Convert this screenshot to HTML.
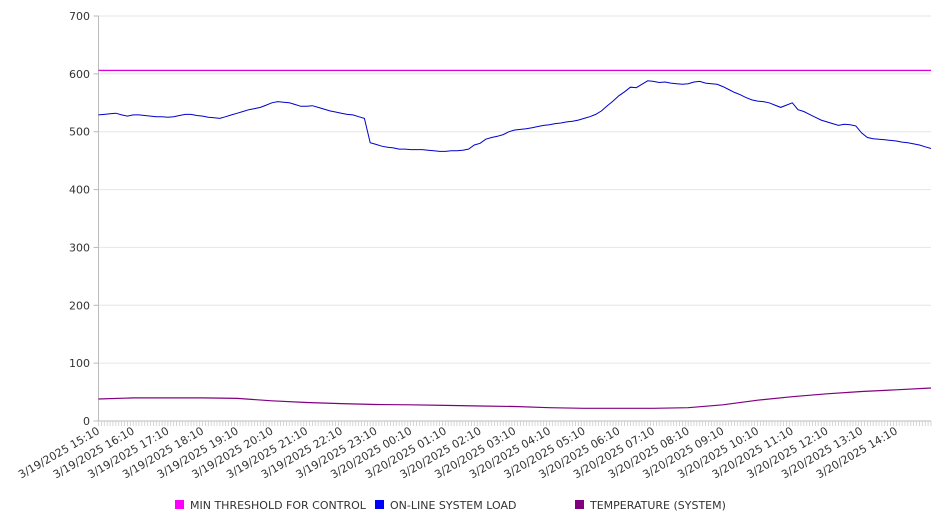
<!DOCTYPE html>
<html><head><meta charset="utf-8"><style>
body{margin:0;background:#fff}
svg{display:block;font-family:"DejaVu Sans","Liberation Sans",sans-serif}
</style></head><body>
<svg id="chart" width="946" height="526" viewBox="0 0 946 526" xmlns="http://www.w3.org/2000/svg">
<g id="grid"></g>
<g id="yaxis"></g>
<g id="xaxis"></g>
<g id="series"></g>
<g id="legend">
  <g><rect x="175" y="500" width="9" height="9" fill="#ff00ff"/><text x="190" y="509" font-size="11" fill="#333">MIN THRESHOLD FOR CONTROL</text></g>
  <g><rect x="375" y="500" width="9" height="9" fill="#0000ff"/><text x="390" y="509" font-size="11" fill="#333">ON-LINE SYSTEM LOAD</text></g>
  <g><rect x="575" y="500" width="9" height="9" fill="#800080"/><text x="590" y="509" font-size="11" fill="#333">TEMPERATURE (SYSTEM)</text></g>
</g>
</svg>
<script>
const categories = ["3/19/2025 15:10","3/19/2025 16:10","3/19/2025 17:10","3/19/2025 18:10","3/19/2025 19:10","3/19/2025 20:10","3/19/2025 21:10","3/19/2025 22:10","3/19/2025 23:10","3/20/2025 00:10","3/20/2025 01:10","3/20/2025 02:10","3/20/2025 03:10","3/20/2025 04:10","3/20/2025 05:10","3/20/2025 06:10","3/20/2025 07:10","3/20/2025 08:10","3/20/2025 09:10","3/20/2025 10:10","3/20/2025 11:10","3/20/2025 12:10","3/20/2025 13:10","3/20/2025 14:10"];
const yTicks = [0,100,200,300,400,500,600,700];
const thresholdValue = 606;
// load sampled every 10 minutes
const loadValues = [529,530,531,532,529,527,529,529,528,527,526,526,525,526,528,530,530,528,527,525,524,523,526,529,532,535,538,540,542,546,550,552,551,550,547,544,544,545,542,539,536,534,532,530,529,526,523,481,478,475,473,472,470,470,469,469,469,468,467,466,466,467,467,468,470,477,480,487,490,492,495,500,503,504,505,507,509,511,512,514,515,517,518,520,523,526,530,536,545,553,562,569,577,576,582,588,587,585,586,584,583,582,583,586,587,584,583,582,578,573,568,564,559,555,553,552,550,546,542,546,550,538,535,530,525,520,517,514,511,513,512,510,498,490,488,487,486,485,484,482,481,479,477,474,471];
// temperature sampled hourly
const tempValues = [38,40,40,40,39,35,32,30,28.5,28,27,26,25,23,22,22,22,23,28,36,42,47,51,54,57];

const NS="http://www.w3.org/2000/svg";
const X0=98.5, X1=931, Y0=421, Y1=16, YMAX=700, HOURS=24;
function yScale(v){return Y0-(v/YMAX)*(Y0-Y1);}
function xHour(h){return X0+(h/HOURS)*(X1-X0);}
function mk(tag,attrs,parent){const e=document.createElementNS(NS,tag);for(const k in attrs)e.setAttribute(k,attrs[k]);parent.appendChild(e);return e;}

const grid=document.getElementById('grid'), yax=document.getElementById('yaxis'), xax=document.getElementById('xaxis'), ser=document.getElementById('series');
yTicks.forEach(t=>{
  const y=yScale(t);
  if(t>0){const g=mk('line',{x1:X0,x2:X1,y1:y,y2:y,stroke:'#e6e6e6','stroke-width':1},grid);
  
  }
  const tk=mk('line',{x1:X0-5,x2:X0,y1:y,y2:y,stroke:'#bbb'},yax);
  
  
  const tx=mk('text',{x:90,y:y+4,'text-anchor':'end','font-size':'11',fill:'#333'},yax);
  
  
  tx.textContent=t;
});
const ax=mk('line',{x1:X0,x2:X0,y1:Y1,y2:Y0,stroke:'#bbb'},yax);


const xl=mk('line',{x1:X0,x2:X1,y1:Y0,y2:Y0,stroke:'#bbb'},xax);


for(let i=0;i<=HOURS*12;i++){
  const x=xHour(i/12);
  const m=mk('line',{x1:x,x2:x,y1:Y0,y2:Y0+5,stroke:'#ccc','stroke-width':0.8},xax);
  
  
}
categories.forEach((c,i)=>{
  const x=xHour(i);
  const t=mk('text',{x:x+2,y:Y0+12,'text-anchor':'end','font-size':'11',fill:'#333',transform:`rotate(-30 ${x+2} ${Y0+12})`},xax);
  
  
  t.textContent=c;
});
const th=mk('line',{x1:X0,x2:X1,y1:yScale(thresholdValue),y2:yScale(thresholdValue),stroke:'#dd00dd','stroke-width':1.2},ser);


const lp=loadValues.map((v,i)=>xHour(i*HOURS/(loadValues.length-1)).toFixed(1)+','+yScale(v).toFixed(1)).join(' ');
const ll=mk('polyline',{points:lp,fill:'none',stroke:'#0000cc','stroke-width':1},ser);


const tp=tempValues.map((v,i)=>xHour(i*HOURS/(tempValues.length-1)).toFixed(1)+','+yScale(v).toFixed(1)).join(' ');
const tl=mk('polyline',{points:tp,fill:'none',stroke:'#800080','stroke-width':1.2},ser);


</script>
</body></html>
